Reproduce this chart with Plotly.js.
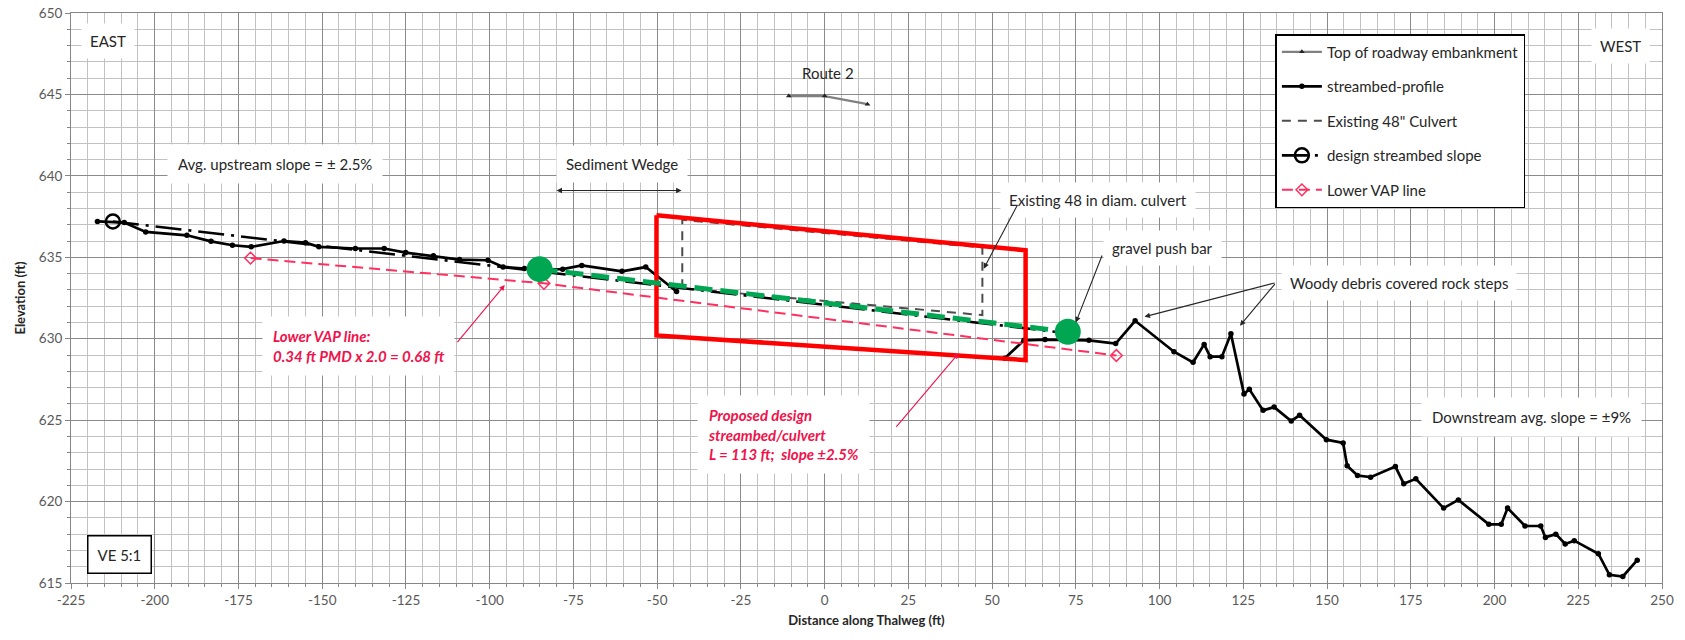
<!DOCTYPE html>
<html>
<head>
<meta charset="utf-8">
<script src="https://cdn.plot.ly/plotly-3.0.1.min.js"></script>
<style>html,body{margin:0;padding:0;background:#fff;}#chart{width:1685px;height:640px;}</style>
</head>
<body>
<div id="chart"></div>
<script>
// ---- data ----
const roadX = [-10.7, 0, 12.8];
const roadY = [644.9, 644.9, 644.4];

const streamX = [-217.1, -209.1, -202.7, -190.4, -183.2, -176.8, -171.2, -161.4, -155.0, -151.0,
  -140.1, -131.5, -125.1, -116.8, -109.0, -100.5, -96.0, -89.6, -85.0, -78.2, -72.5, -60.5, -53.4, -44.2,
  null,
  53.8, 59.5, 65.8, 78.9, 86.9, 92.7, 104.3, 110.0, 113.3, 115.1, 118.6, 121.3, 125.2, 126.8, 130.9,
  134.2, 139.3, 141.8, 149.8, 154.8, 156.0, 159.1, 163.0, 170.4, 172.9, 176.5, 184.8, 189.2, 198.3,
  202.0, 203.9, 209.1, 213.8, 215.2, 218.3, 221.1, 223.8, 231.0, 234.3, 238.3, 242.6];
const streamY = [637.2, 637.13, 636.56, 636.35, 635.98, 635.74, 635.64, 636.0, 635.9, 635.64,
  635.54, 635.54, 635.29, 635.09, 634.86, 634.82, 634.41, 634.31, 634.25, 634.27, 634.5, 634.14, 634.4, 632.9,
  null,
  628.8, 629.9, 629.95, 629.9, 629.7, 631.1, 629.2, 628.55, 629.65, 628.9, 628.9, 630.3, 626.6, 626.9, 625.6,
  625.8, 624.95, 625.3, 623.8, 623.6, 622.2, 621.6, 621.5, 622.15, 621.1, 621.4, 619.6, 620.1, 618.6,
  618.6, 619.6, 618.5, 618.5, 617.8, 618.0, 617.4, 617.6, 616.8, 615.5, 615.4, 616.4];

const culvertX = [-42.5, -42.5, 47.1, 47.1, -42.5];
const culvertY = [633.1, 637.3, 635.6, 631.45, 633.1];

const designX = [-212.5, 72.0];
const designY = [637.2, 630.35];

const vapX = [-171.4, -83.8, 87.1];
const vapY = [634.95, 633.4, 628.97];

const proposedX = [-85.1, 72.6];
const proposedY = [634.27, 630.43];

const boxX = [-50.2, 60.0, 60.0, -50.2, -50.2];
const boxY = [637.58, 635.43, 628.69, 630.2, 637.58];

const xTicks = [-225, -200, -175, -150, -125, -100, -75, -50, -25, 0, 25, 50, 75, 100, 125, 150, 175, 200, 225, 250];
const yTicks = [615, 620, 625, 630, 635, 640, 645, 650];

// ---- styling ----
const FONT = 'Lato, "Open Sans", sans-serif';
const TXT = '#262626';
const RED = '#f0124a';

const traces = [
  {x: roadX, y: roadY, name: 'Top of roadway embankment', mode: 'lines+markers', legendgroup: 'a',
   line: {color: '#808080', width: 2.2}, marker: {color: '#222', size: 5, symbol: 'triangle-up'}},
  {x: streamX, y: streamY, name: 'streambed-profile', mode: 'lines+markers', legendgroup: 'b', connectgaps: false,
   line: {color: '#000', width: 2.7}, marker: {color: '#000', size: 5.5}},
  {x: culvertX, y: culvertY, name: 'Existing 48" Culvert', mode: 'lines', legendgroup: 'c',
   line: {color: '#4d4d4d', width: 2, dash: '9px,7px'}},
  {x: designX, y: designY, name: 'design streambed slope', mode: 'lines+markers', legendgroup: 'd',
   line: {color: '#000', width: 2.6, dash: '26px,7px,3px,7px'},
   marker: {symbol: 'circle-open', size: 14, color: '#000', line: {width: 2.5, color: '#000'}}},
  {x: vapX, y: vapY, name: 'Lower VAP line', mode: 'lines+markers', legendgroup: 'e',
   line: {color: '#ff2f5f', width: 2, dash: '11px,6px'},
   marker: {symbol: 'diamond-open', size: 9, color: '#ff2f5f', line: {width: 1.5}}},
  {x: boxX, y: boxY, mode: 'lines', showlegend: false, hoverinfo: 'skip',
   line: {color: '#ff0000', width: 4.5}},
  {x: proposedX, y: proposedY, mode: 'lines+markers', showlegend: false,
   line: {color: '#00a651', width: 5, dash: '18px,8px'},
   marker: {color: '#00a651', size: 26}}
];

function lbl(x, y, text, extra) {
  return Object.assign({x: x, y: y, xref: 'x', yref: 'y', text: text, showarrow: false,
    font: {family: FONT, size: 15, color: TXT}, bgcolor: '#ffffff', borderpad: 8}, extra || {});
}
function arrow(x, y, ax, ay, color, extra) {
  return Object.assign({x: x, y: y, ax: ax, ay: ay, xref: 'x', yref: 'y', axref: 'x', ayref: 'y',
    text: '', showarrow: true, arrowhead: 2, arrowsize: 1, arrowwidth: 1.1, arrowcolor: color,
    standoff: 0, startstandoff: 0}, extra || {});
}

const annotations = [
  lbl(-214.1, 648.3, 'EAST'),
  lbl(237.6, 648.0, 'WEST'),
  lbl(1, 646.3, 'Route 2', {bgcolor: 'rgba(0,0,0,0)'}),
  lbl(-164, 640.7, 'Avg. upstream slope = ± 2.5%', {borderpad: 10}),
  lbl(-60.5, 640.7, 'Sediment Wedge', {borderpad: 9}),
  lbl(81.5, 638.5, 'Existing 48 in diam. culvert'),
  lbl(101, 635.6, 'gravel push bar'),
  lbl(171.5, 633.4, 'Woody debris covered rock steps'),
  lbl(211, 625.2, 'Downstream avg. slope = ±9%', {borderpad: 10}),
  lbl(-210.5, 616.75, 'VE 5:1', {bordercolor: '#000', borderwidth: 1.5, borderpad: 9}),
  lbl(-139.2, 629.56, '<b><i>Lower VAP line:</i></b><br><b><i>0.34 ft PMD x 2.0 = 0.68 ft</i></b>',
      {align: 'left', font: {family: FONT, size: 15, color: RED}, borderpad: 10}),
  lbl(-12.4, 624.1, '<b><i>Proposed design</i></b><br><b><i>streambed/culvert</i></b><br><b><i>L = 113 ft;  slope ±2.5%</i></b>',
      {align: 'left', font: {family: FONT, size: 15, color: RED}, borderpad: 10}),
  arrow(-42.7, 639.1, -80.5, 639.1, TXT, {arrowside: 'end+start'}),
  arrow(47.5, 634.3, 57.8, 638.3, TXT),
  arrow(75, 631.0, 83, 635.2, TXT),
  arrow(95.5, 631.35, 134.8, 633.45, TXT),
  arrow(124, 630.8, 134.8, 633.45, TXT),
  arrow(-95.5, 633.3, -110, 629.7, RED),
  arrow(40, 629.1, 21, 624.5, RED)
];

const layout = {
  width: 1685, height: 640,
  margin: {l: 71, r: 23, t: 13, b: 57},
  paper_bgcolor: '#ffffff', plot_bgcolor: '#ffffff',
  font: {family: FONT, size: 13, color: TXT},
  showlegend: true,
  legend: {x: 0.757, y: 0.963, xanchor: 'left', yanchor: 'top', bgcolor: '#ffffff',
    bordercolor: '#000', borderwidth: 1.5, font: {family: FONT, size: 15, color: TXT},
    traceorder: 'grouped', tracegroupgap: 12, itemwidth: 40},
  xaxis: {range: [-225, 250], tickmode: 'array', tickvals: xTicks, ticktext: xTicks.map(String),
    showgrid: true, gridcolor: '#8a8a8a', gridwidth: 1, zeroline: false,
    minor: {dtick: 5, tick0: -225, showgrid: true, gridcolor: '#c2c2c2', gridwidth: 1, ticks: 'outside', ticklen: 3, tickcolor: '#868686'},
    showline: true, linecolor: '#868686', linewidth: 1, mirror: true, ticks: 'outside', ticklen: 5, tickcolor: '#868686',
    tickfont: {family: FONT, size: 13.5, color: '#595959'},
    title: {text: '<b>Distance along Thalweg (ft)</b>', font: {family: FONT, size: 13, color: TXT}, standoff: 8}},
  yaxis: {range: [615, 650], tickmode: 'array', tickvals: yTicks, ticktext: yTicks.map(String),
    showgrid: true, gridcolor: '#8a8a8a', gridwidth: 1, zeroline: false,
    minor: {dtick: 1, tick0: 615, showgrid: true, gridcolor: '#c2c2c2', gridwidth: 1, ticks: 'outside', ticklen: 3, tickcolor: '#868686'},
    showline: true, linecolor: '#868686', linewidth: 1, mirror: true, ticks: 'outside', ticklen: 5, tickcolor: '#868686',
    tickfont: {family: FONT, size: 13.5, color: '#595959'},
    title: {text: '<b>Elevation (ft)</b>', font: {family: FONT, size: 13, color: TXT}, standoff: 10}},
  annotations: annotations
};

Plotly.newPlot('chart', traces, layout, {displayModeBar: false, staticPlot: true});
</script>
</body>
</html>
